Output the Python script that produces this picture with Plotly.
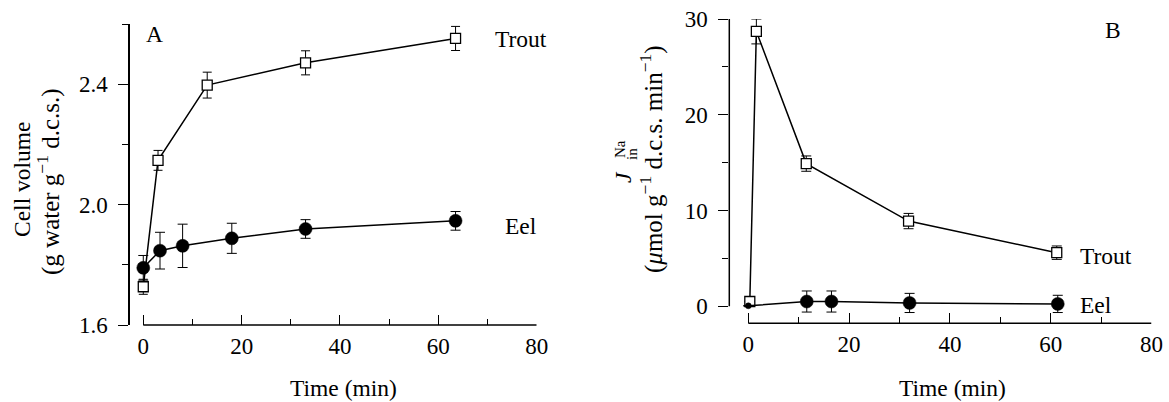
import plotly.graph_objects as go

# ---------------- data ----------------
# Panel A: cell volume (g water g-1 d.c.s.)
a_trout_t = [0, 3, 13, 33, 63.5]
a_trout_v = [1.727, 2.147, 2.397, 2.471, 2.552]
a_trout_e = [0.025, 0.033, 0.043, 0.04, 0.04]

a_eel_t = [0, 3.4, 8, 18, 33, 63.5]
a_eel_v = [1.79, 1.847, 1.863, 1.888, 1.919, 1.946]
a_eel_e = [0.041, 0.061, 0.072, 0.05, 0.031, 0.031]

# Panel B: Na influx (umol g-1 d.c.s. min-1)
b_trout_t = [0.3, 1.6, 11.5, 31.8, 61.2]
b_trout_v = [0.5, 28.7, 14.9, 8.9, 5.6]
b_trout_e = [0, 1.3, 0.8, 0.8, 0.7]

b_eel_t = [0, 11.6, 16.5, 32.0, 61.4]
b_eel_v = [0.05, 0.5, 0.5, 0.35, 0.25]
b_eel_e = [0, 1.1, 1.1, 1.0, 0.9]

a_yticks = [1.6, 2.0, 2.4]
b_yticks = [0, 10, 20, 30]
xticks = [0, 20, 40, 60, 80]

# ---------------- style ----------------
W, H = 1169, 402
FONT = "Liberation Serif"
FS = 23.5
TFS = 23
BLACK = "black"


def px(x):
    return x / W


def py(y):
    return 1 - y / H


fig = go.Figure()

sq = dict(symbol="square", size=10, color="white", opacity=1,
          line=dict(color=BLACK, width=1.3))


def circ(sizes):
    return dict(symbol="circle", size=sizes, color=BLACK, opacity=1,
                line=dict(color=BLACK, width=0.5))


fig.add_trace(go.Scatter(
    x=a_trout_t, y=a_trout_v, mode="lines+markers", xaxis="x", yaxis="y",
    line=dict(color=BLACK, width=1.5), marker=sq,
    error_y=dict(type="data", array=a_trout_e, color=BLACK, thickness=1, width=4.5),
    showlegend=False))
fig.add_trace(go.Scatter(
    x=a_eel_t, y=a_eel_v, mode="lines+markers", xaxis="x", yaxis="y",
    line=dict(color=BLACK, width=1.5), marker=circ(13),
    error_y=dict(type="data", array=a_eel_e, color=BLACK, thickness=1, width=5),
    showlegend=False))
fig.add_trace(go.Scatter(
    x=b_trout_t, y=b_trout_v, mode="lines+markers", xaxis="x2", yaxis="y2",
    line=dict(color=BLACK, width=1.5), marker=sq,
    error_y=dict(type="data", array=b_trout_e, color=BLACK, thickness=1, width=5),
    showlegend=False))
fig.add_trace(go.Scatter(
    x=b_eel_t, y=b_eel_v, mode="lines+markers", xaxis="x2", yaxis="y2",
    line=dict(color=BLACK, width=1.5), marker=circ([6, 13, 13, 13, 13]),
    error_y=dict(type="data", array=b_eel_e, color=BLACK, thickness=1, width=5),
    showlegend=False))

tickfont = dict(family=FONT, size=TFS, color=BLACK)

xcommon = dict(
    tickmode="array", tickvals=xticks, ticktext=[str(v) for v in xticks],
    ticks="inside", ticklen=10, tickwidth=1.3, tickcolor=BLACK,
    minor=dict(tickmode="linear", tick0=0, dtick=10, ticks="inside", ticklen=6,
               tickwidth=1.3, tickcolor=BLACK),
    showline=False, showgrid=False, zeroline=False, automargin=False,
    tickfont=tickfont, ticklabelstandoff=5,
)

fig.update_layout(
    width=W, height=H, autosize=False,
    margin=dict(l=0, r=0, t=0, b=0, pad=0),
    paper_bgcolor="white", plot_bgcolor="white",
    font=dict(family=FONT, size=FS, color=BLACK),
    xaxis=dict(domain=[px(130), px(536.7)], range=[-2.7, 80], anchor="y", **xcommon),
    yaxis=dict(domain=[py(325), py(24)], range=[1.6, 2.6], anchor="x", automargin=False,
               tickmode="array", tickvals=a_yticks, ticktext=["%.1f" % v for v in a_yticks],
               ticks="outside", ticklen=10, tickwidth=1.3, tickcolor=BLACK,
               minor=dict(tickmode="linear", tick0=1.6, dtick=0.2, ticks="outside",
                          ticklen=6, tickwidth=1.3, tickcolor=BLACK),
               showline=True, linecolor=BLACK, linewidth=1.5,
               showgrid=False, zeroline=False, tickfont=tickfont, ticklabelstandoff=6),
    xaxis2=dict(domain=[px(729.3), px(1151.5)], range=[-3.77, 80], anchor="y2", **xcommon),
    yaxis2=dict(domain=[py(323.3), py(19)], range=[-1.775, 30], anchor="x2", automargin=False,
                tickmode="array", tickvals=b_yticks, ticktext=[str(v) for v in b_yticks],
                ticks="outside", ticklen=10, tickwidth=1.3, tickcolor=BLACK,
                minor=dict(tickmode="linear", tick0=0, dtick=5, ticks="outside",
                           ticklen=6, tickwidth=1.3, tickcolor=BLACK),
                showline=False, showgrid=False, zeroline=False,
                tickfont=tickfont, ticklabelstandoff=6),
)

# Range-frame axis lines (x axes start at 0; B's y axis spans 0..30)
fig.add_shape(type="line", xref="x", yref="y domain", x0=0, x1=80, y0=0, y1=0,
              line=dict(color=BLACK, width=1.5))
fig.add_shape(type="line", xref="x2", yref="y2 domain", x0=0, x1=80, y0=0, y1=0,
              line=dict(color=BLACK, width=1.5))
fig.add_shape(type="line", xref="x2 domain", yref="y2", x0=0, x1=0, y0=0, y1=30,
              line=dict(color=BLACK, width=1.5))


def ann(text, x, y, size=FS, angle=0):
    fig.add_annotation(text=text, x=px(x), y=py(y), xref="paper", yref="paper",
                       showarrow=False, xanchor="center", yanchor="middle",
                       textangle=angle, borderpad=0,
                       font=dict(family=FONT, size=size, color=BLACK))


# panel labels and series names
ann("A", 154.5, 34)
ann("Trout", 521, 39)
ann("Eel", 521, 226)
ann("B", 1112.5, 30)
ann("Trout", 1106, 256)
ann("Eel", 1096, 305)

# axis titles
ann("Time (min)", 343, 388)
ann("Time (min)", 952, 388)
ann("Cell volume", 22, 179, angle=-90)
ann("(g water g<sup>−1</sup> d.c.s.)", 48, 182, size=25, angle=-90)
ann("<i>J</i>", 623, 177, angle=-90)
ann("Na", 620, 149, size=15, angle=-90)
ann("in", 632, 154, size=15, angle=-90)
ann("(<i>μ</i>mol g<sup>−1</sup> d.c.s. min<sup>−1</sup>)", 652, 159, size=25, angle=-90)

fig.write_html("out.html", config={"displayModeBar": False},
               post_script="document.body.style.margin='0px';")
